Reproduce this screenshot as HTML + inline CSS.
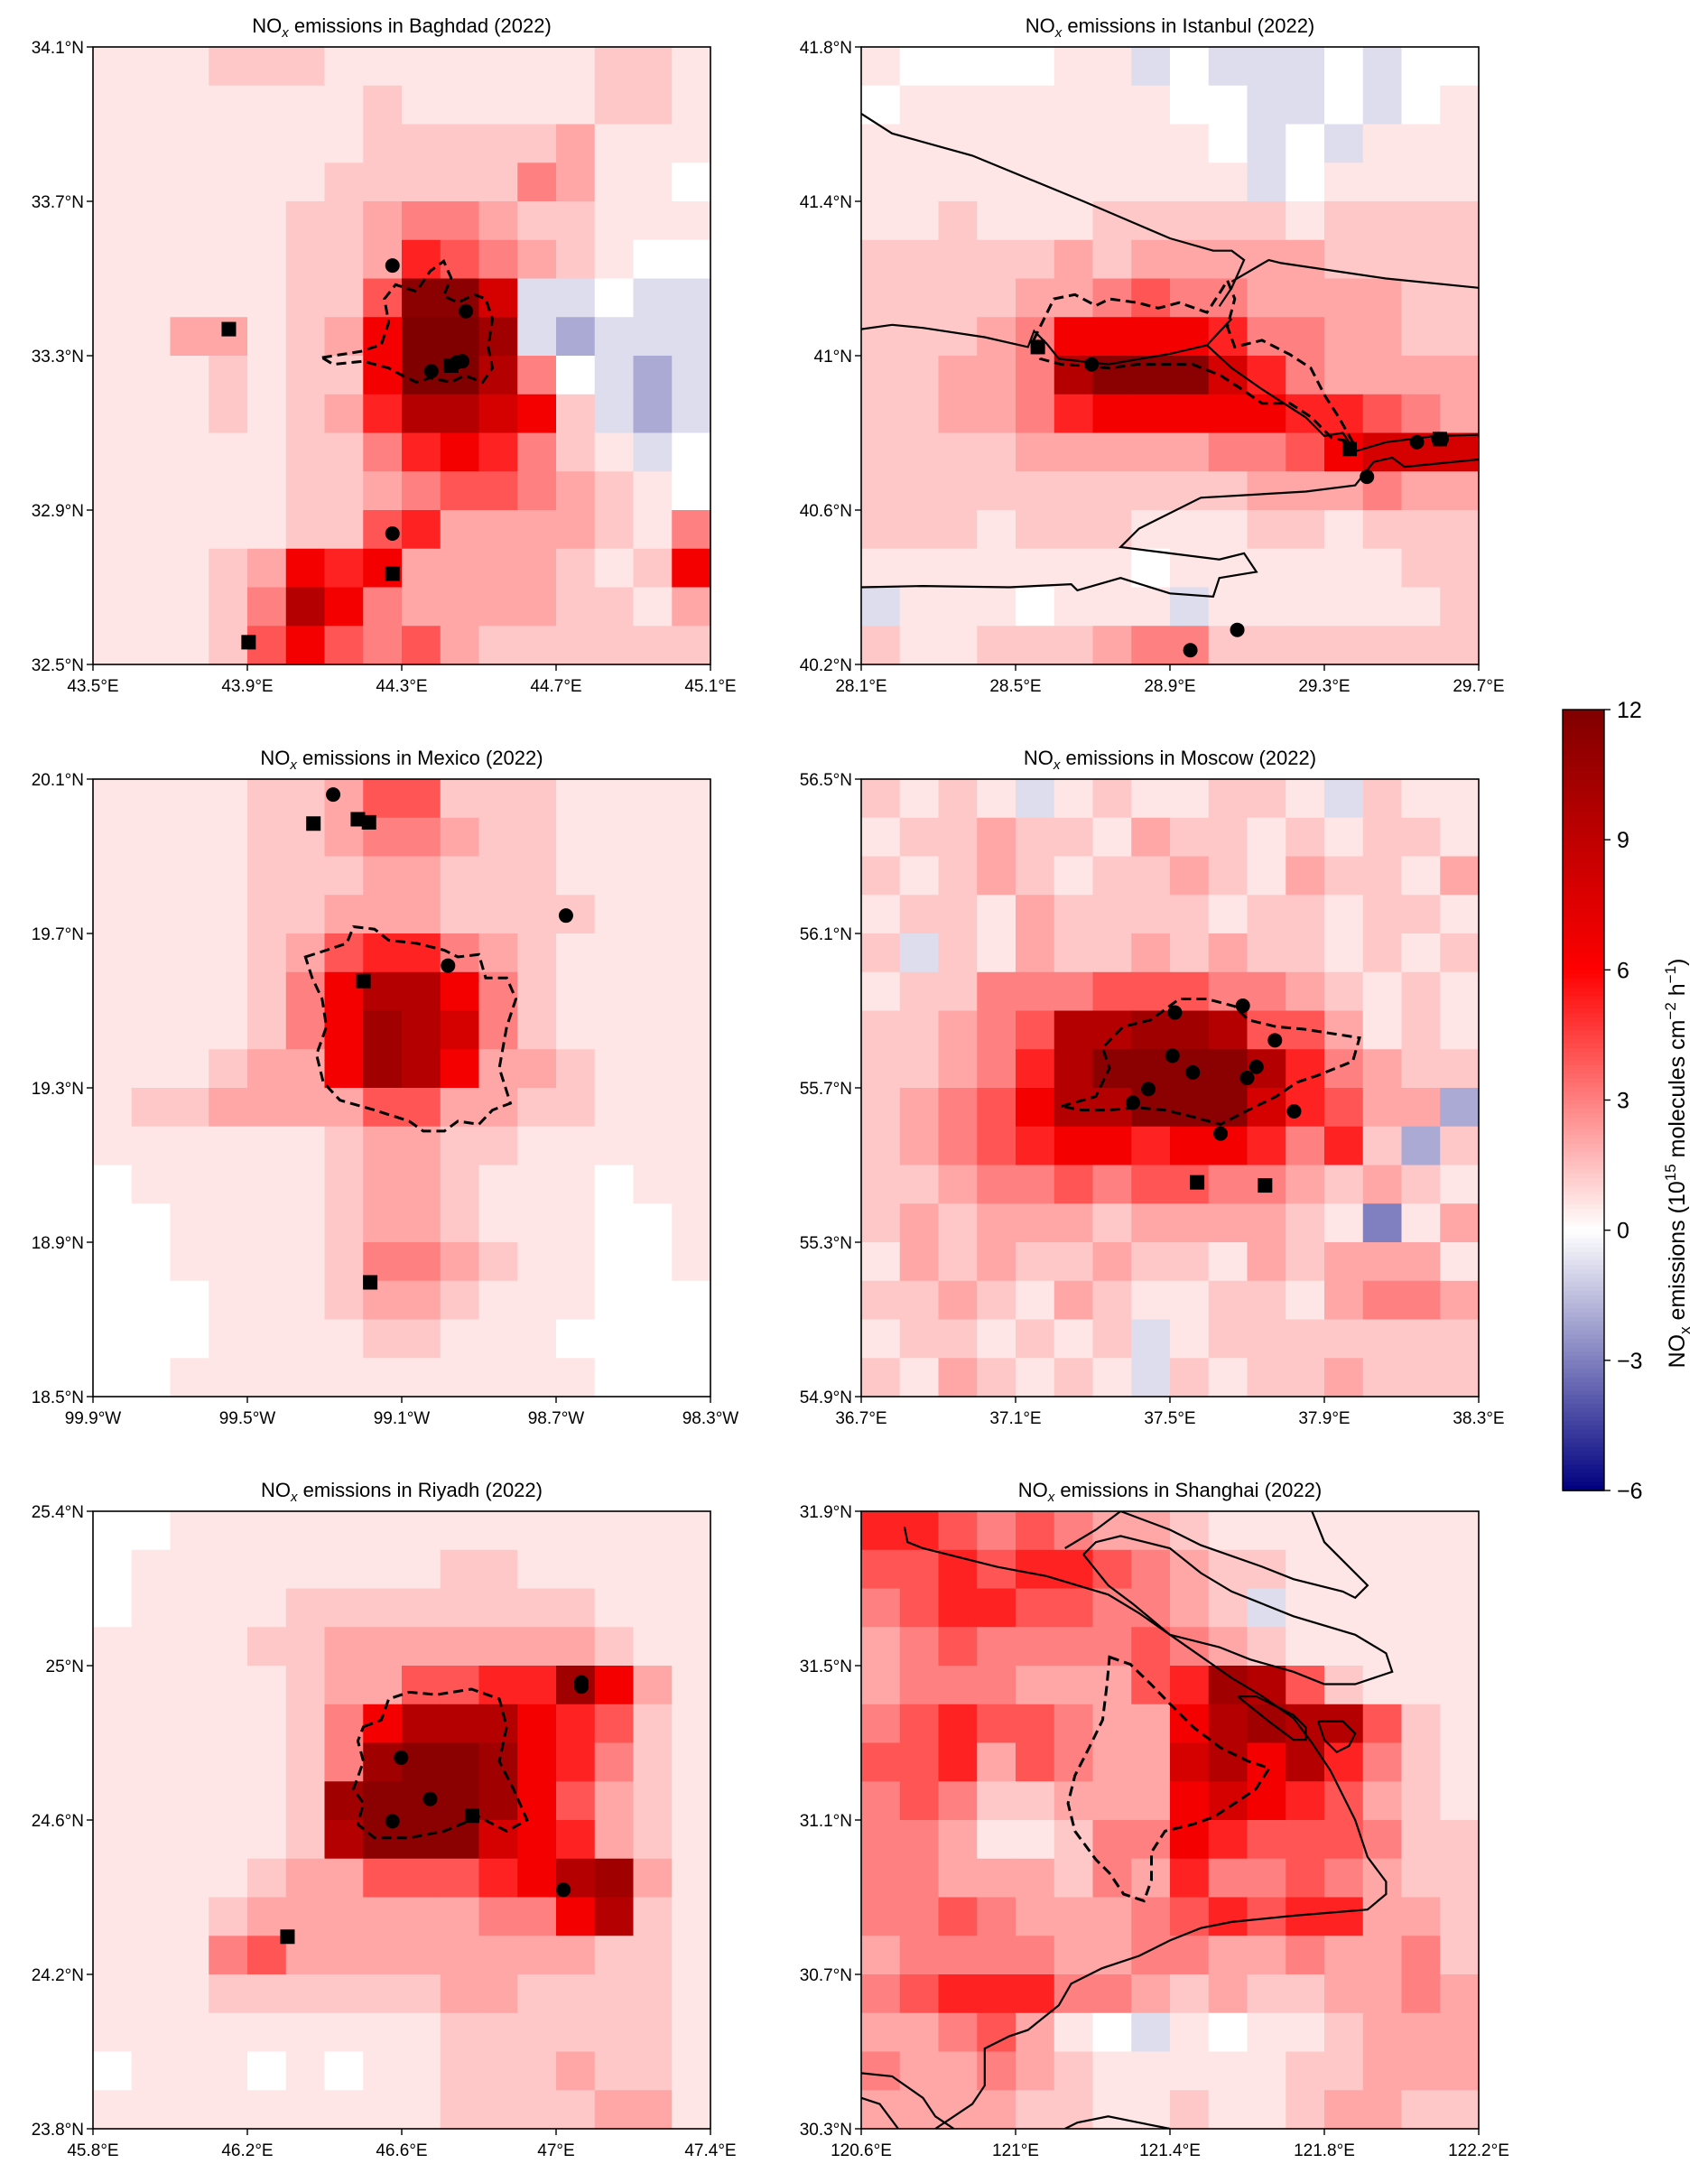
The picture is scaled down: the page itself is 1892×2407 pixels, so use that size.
<!DOCTYPE html>
<html><head><meta charset="utf-8">
<style>
html,body{margin:0;padding:0;background:#fff;}
svg{display:block;font-family:"Liberation Sans","DejaVu Sans",sans-serif;}
</style></head>
<body>
<svg id="fig" xmlns="http://www.w3.org/2000/svg" width="1892" height="2407" viewBox="0 0 1892 2407">
<rect x="0" y="0" width="1892" height="2407" fill="#fff"/>
</svg>
<script>
// ===== Data (16x16 grid per city, rows north->south, cols west->east) =====
// level codes: 0-9,a,b,c = increasing emission levels; x,y,z = negative levels
const levelCodes = "zyx0123456789abc";
const levelValues = [-3,-2,-0.8,0,0.6,1.3,2.1,3,4,5.2,6.5,8,9.5,10.5,11.5,12];
const cityNames = ["Baghdad","Istanbul","Mexico","Moscow","Riyadh","Shanghai"];
const lonTicks = [["43.5°E","43.9°E","44.3°E","44.7°E","45.1°E"],["28.1°E","28.5°E","28.9°E","29.3°E","29.7°E"],["99.9°W","99.5°W","99.1°W","98.7°W","98.3°W"],["36.7°E","37.1°E","37.5°E","37.9°E","38.3°E"],["45.8°E","46.2°E","46.6°E","47°E","47.4°E"],["120.6°E","121°E","121.4°E","121.8°E","122.2°E"]];
const latTicks = [["34.1°N","33.7°N","33.3°N","32.9°N","32.5°N"],["41.8°N","41.4°N","41°N","40.6°N","40.2°N"],["20.1°N","19.7°N","19.3°N","18.9°N","18.5°N"],["56.5°N","56.1°N","55.7°N","55.3°N","54.9°N"],["25.4°N","25°N","24.6°N","24.2°N","23.8°N"],["31.9°N","31.5°N","31.1°N","30.7°N","30.3°N"]];
const gridBaghdad = ["1112221111111221","1111111211111221","1111111222223111","1111112222243110","1111122344322111","1111122365432100","11111225bb8xx0xx","11331237ccaxyxxx","11121227cc940xyx","1112123699872xyx","11111224676421x0","1111122345543210","1111122563333214","1112376733332127","1112497433332213","1112575453222222"];
const gridIstanbul = ["1000011x0xxx0x00","0111111100xx0x01","1111111110x0x111","1111111111x01111","1121112222212222","2222232333332222","2222334544333322","2223477776443322","223349bbb8643333","2233467777766543","2222333334457888","2222222222333433","2221222111221222","1111111011111122","x1110111x1111112","2112223442222222"];
const gridMexico = ["1111223552221111","1111223443221111","1111222332221111","1111223332222111","1111235664321111","1111247997421111","1111247a98421111","1112337a97332111","1223333553322111","1111112332211111","0111112332111011","0011112332111001","0011112443211001","0001112332111000","0001111221110000","0011111111111000"];
const gridMoscow = ["2121x1211221x211","1223221322121221","2123212232132213","1221322221221221","2x21322323221212","1224445554432121","2234599aa9553121","223469bbbb964322","2345799bbb86533y","23456776776462y2","2234454554432321","2323332333321z13","1323223221323331","2232132112213443","1221212x12222222","2132121x21223222"];
const gridRiyadh = ["0011111111111111","0111111112211111","0111122222222111","1111223333333211","111112335566a731","1111124799976521","1111124abba76421","111112abbba75321","1111129bbb876321","1111233555679a31","1112333333447921","1114533333333221","1112222223322221","1111111112222221","0111010112223221","1111111112222331"];
const gridShanghai = ["6654543321111111","5565665432211111","4566554432x11111","3454444543211111","344433356a952111","4565543379a99521","5563543389796421","4542233378765321","4431124476555422","4433324364454322","4454333456566332","3444433443343342","4566644323223343","3345310x10112333","4334321111122333","3333221121123322"];
const grids = [gridBaghdad,gridIstanbul,gridMexico,gridMoscow,gridRiyadh,gridShanghai];
// markers in panel fraction units [fx, fy]
const circles = [
 [[0.485,0.354],[0.604,0.428],[0.548,0.525],[0.589,0.511],[0.598,0.509],[0.485,0.788]],
 [[0.286,0.486],[0.373,0.514],[0.9,0.640],[0.935,0.635],[0.94,0.635],[0.819,0.696],[0.609,0.944],[0.533,0.977]],
 [[0.389,0.025],[0.766,0.221],[0.575,0.302]],
 [[0.508,0.378],[0.618,0.367],[0.67,0.423],[0.504,0.448],[0.64,0.466],[0.537,0.475],[0.625,0.484],[0.465,0.502],[0.440,0.524],[0.701,0.538],[0.582,0.574]],
 [[0.791,0.277],[0.791,0.284],[0.499,0.399],[0.546,0.466],[0.485,0.502],[0.762,0.613]],
 []
];
const squares = [
 [[0.220,0.457],[0.580,0.516],[0.485,0.853],[0.252,0.964]],
 [[0.286,0.486],[0.791,0.651],[0.937,0.635]],
 [[0.357,0.072],[0.429,0.065],[0.447,0.070],[0.438,0.327],[0.449,0.815]],
 [[0.544,0.653],[0.654,0.658]],
 [[0.614,0.493],[0.315,0.689]],
 []
];
// outlines (panel fraction units)
const cityOutline = [
 [[0.371,0.503],[0.434,0.493],[0.467,0.482],[0.479,0.446],[0.472,0.408],[0.490,0.385],[0.524,0.396],[0.546,0.363],[0.568,0.347],[0.580,0.374],[0.568,0.403],[0.591,0.414],[0.618,0.401],[0.636,0.408],[0.647,0.441],[0.640,0.486],[0.647,0.52],[0.631,0.543],[0.602,0.532],[0.580,0.543],[0.546,0.536],[0.524,0.543],[0.501,0.532],[0.479,0.52],[0.438,0.509],[0.389,0.514]],
 [[0.279,0.475],[0.312,0.408],[0.346,0.401],[0.380,0.419],[0.402,0.408],[0.447,0.414],[0.481,0.423],[0.515,0.414],[0.560,0.430],[0.582,0.396],[0.593,0.378],[0.605,0.408],[0.593,0.453],[0.605,0.486],[0.649,0.475],[0.694,0.498],[0.728,0.520],[0.751,0.565],[0.773,0.599],[0.796,0.640],[0.762,0.633],[0.728,0.599],[0.694,0.577],[0.649,0.577],[0.616,0.554],[0.582,0.532],[0.537,0.514],[0.492,0.514],[0.447,0.514],[0.402,0.520],[0.357,0.516],[0.324,0.514],[0.290,0.505]],
 [[0.344,0.288],[0.378,0.277],[0.411,0.266],[0.422,0.239],[0.456,0.243],[0.479,0.261],[0.524,0.266],[0.569,0.277],[0.591,0.288],[0.625,0.284],[0.636,0.322],[0.670,0.322],[0.685,0.356],[0.670,0.401],[0.658,0.468],[0.676,0.525],[0.647,0.536],[0.625,0.559],[0.591,0.554],[0.569,0.570],[0.535,0.570],[0.512,0.554],[0.456,0.536],[0.400,0.520],[0.373,0.491],[0.362,0.446],[0.378,0.401],[0.371,0.356],[0.355,0.322]],
 [[0.324,0.530],[0.380,0.514],[0.402,0.468],[0.391,0.435],[0.424,0.401],[0.469,0.390],[0.515,0.356],[0.560,0.356],[0.605,0.368],[0.627,0.390],[0.672,0.401],[0.717,0.405],[0.762,0.412],[0.807,0.419],[0.796,0.457],[0.739,0.480],[0.706,0.491],[0.672,0.514],[0.627,0.536],[0.582,0.559],[0.537,0.547],[0.492,0.536],[0.447,0.532],[0.402,0.536],[0.357,0.536]],
 [[0.438,0.349],[0.467,0.338],[0.479,0.304],[0.512,0.293],[0.557,0.297],[0.613,0.288],[0.658,0.304],[0.670,0.349],[0.658,0.405],[0.681,0.450],[0.703,0.500],[0.670,0.518],[0.625,0.495],[0.569,0.518],[0.512,0.529],[0.456,0.529],[0.429,0.507],[0.438,0.473],[0.422,0.450],[0.438,0.405],[0.429,0.372]],
 [[0.402,0.236],[0.436,0.248],[0.470,0.281],[0.503,0.315],[0.537,0.349],[0.582,0.383],[0.627,0.405],[0.661,0.416],[0.639,0.450],[0.605,0.473],[0.571,0.495],[0.537,0.507],[0.492,0.518],[0.470,0.552],[0.470,0.597],[0.458,0.631],[0.425,0.620],[0.402,0.586],[0.380,0.564],[0.346,0.518],[0.335,0.473],[0.346,0.428],[0.369,0.383],[0.391,0.338],[0.398,0.281]]
];
const coastlines = [
 [],
 [
  [[0,0.108],[0.05,0.14],[0.18,0.176],[0.36,0.25],[0.5,0.31],[0.57,0.33],[0.6,0.33],[0.62,0.345],[0.6,0.39],[0.58,0.42]],
  [[0.6,0.38],[0.66,0.345],[0.68,0.35],[0.85,0.375],[1,0.39]],
  [[0,0.457],[0.05,0.45],[0.1,0.455],[0.2,0.47],[0.27,0.486],[0.28,0.46],[0.3,0.48],[0.32,0.505],[0.4,0.514],[0.5,0.497],[0.56,0.483],[0.6,0.44]],
  [[0.56,0.483],[0.6,0.52],[0.65,0.555],[0.72,0.6],[0.75,0.63],[0.78,0.625],[0.8,0.655],[0.85,0.64],[0.93,0.63],[1,0.628]],
  [[1,0.668],[0.88,0.68],[0.86,0.665],[0.83,0.672],[0.8,0.71],[0.72,0.72],[0.55,0.73],[0.45,0.78],[0.42,0.81],[0.5,0.82],[0.58,0.83],[0.62,0.82],[0.64,0.85],[0.58,0.86],[0.57,0.89],[0.5,0.885],[0.42,0.86],[0.35,0.88],[0.34,0.87],[0.24,0.875],[0.1,0.873],[0,0.875]]
 ],
 [],[],[],
 [
  [[0.07,0.025],[0.075,0.05],[0.1,0.06],[0.22,0.09],[0.3,0.105],[0.4,0.135],[0.45,0.165],[0.5,0.2],[0.55,0.235],[0.6,0.27],[0.65,0.3],[0.7,0.335],[0.73,0.375],[0.76,0.42],[0.78,0.46],[0.8,0.5],[0.82,0.56],[0.85,0.6],[0.85,0.62],[0.82,0.645],[0.7,0.655],[0.6,0.665],[0.55,0.675],[0.5,0.695],[0.45,0.72],[0.39,0.74],[0.34,0.765],[0.32,0.8],[0.27,0.84],[0.24,0.85],[0.2,0.87],[0.2,0.93],[0.18,0.96],[0.12,1]],
  [[0.33,0.06],[0.38,0.03],[0.42,0.0],[0.5,0.03],[0.55,0.055],[0.65,0.09],[0.7,0.11],[0.78,0.13],[0.8,0.14],[0.82,0.12],[0.75,0.05],[0.73,0.0]],
  [[0.36,0.07],[0.38,0.05],[0.42,0.04],[0.5,0.06],[0.55,0.1],[0.6,0.13],[0.7,0.17],[0.8,0.2],[0.85,0.23],[0.86,0.26],[0.8,0.28],[0.75,0.28],[0.7,0.26],[0.63,0.24],[0.58,0.22],[0.5,0.2],[0.44,0.15],[0.4,0.12],[0.36,0.07]],
  [[0.61,0.3],[0.64,0.3],[0.7,0.33],[0.72,0.35],[0.72,0.37],[0.7,0.37],[0.66,0.34],[0.61,0.3]],
  [[0.74,0.34],[0.78,0.34],[0.8,0.36],[0.79,0.38],[0.77,0.39],[0.75,0.37],[0.74,0.34]],
  [[0,0.91],[0.05,0.915],[0.1,0.95],[0.12,0.98],[0.15,1]],
  [[0,0.95],[0.03,0.96],[0.06,1]],
  [[0.33,1],[0.35,0.99],[0.4,0.98],[0.45,0.99],[0.5,1]]
 ]
];
const cbTicks=[12,9,6,3,0,-3,-6];
// ===== Layout =====
const NS="http://www.w3.org/2000/svg";
const svg=document.getElementById('fig');
const colX=[103,954], rowY=[52,863,1674], PW=684, PH=684;
function mk(tag,attrs,parent){const e=document.createElementNS(NS,tag);for(const k in attrs)e.setAttribute(k,attrs[k]);(parent||svg).appendChild(e);return e;}
function val(ch){const i=levelCodes.indexOf(ch);return i<0?0:levelValues[i];}
function color(v){let r,g,b;
 if(v>=6){const t=Math.min(1,(v-6)/6);r=255-127*t;g=0;b=0;}
 else if(v>=0){const t=v/6;r=255;g=255*(1-t);b=g;}
 else{const t=Math.min(1,-v/6);r=255*(1-t);g=r;b=255-127*t;}
 return `rgb(${Math.round(r)},${Math.round(g)},${Math.round(b)})`;}
function ptsStr(arr,x0,y0){return arr.map(p=>(x0+p[0]*PW).toFixed(1)+','+(y0+p[1]*PH).toFixed(1)).join(' ');}

for(let i=0;i<6;i++){
 const x0=colX[i%2], y0=rowY[Math.floor(i/2)];
 const g=mk('g',{});
 
 
 const grid=grids[i]; const nr=grid.length, nc=grid[0].length;
 const cw=PW/nc, ch=PH/nr;
 const hm=mk('g',{},g);
 
 
 for(let r=0;r<nr;r++)for(let c=0;c<nc;c++){
  const cell=mk('rect',{x:(x0+c*cw).toFixed(2),y:(y0+r*ch).toFixed(2),width:(cw+0.6).toFixed(2),height:(ch+0.6).toFixed(2),fill:color(val(grid[r][c]))},hm);
  
  
 }
 const clip=mk('clipPath',{id:'clip'+i},g);
 mk('rect',{x:x0,y:y0,width:PW,height:PH},clip);
 for(const line of coastlines[i]){
  const l=mk('polyline',{points:ptsStr(line,x0,y0),fill:'none',stroke:'#000','stroke-width':2.2,'clip-path':`url(#clip${i})`},g);
  
  
 }
 const ol=mk('polygon',{points:ptsStr(cityOutline[i],x0,y0),fill:'none',stroke:'#000','stroke-width':3,'stroke-dasharray':'11,6'},g);
 
 
 for(const p of circles[i]){
  const c=mk('circle',{cx:x0+p[0]*PW,cy:y0+p[1]*PH,r:8,fill:'#000'},g);
  
  
 }
 for(const p of squares[i]){
  const s=mk('rect',{x:x0+p[0]*PW-8,y:y0+p[1]*PH-8,width:16,height:16,fill:'#000'},g);
  
  
 }
 const fr=mk('rect',{x:x0,y:y0,width:PW,height:PH,fill:'none',stroke:'#000','stroke-width':1.6},g);
 
 
 for(let k=0;k<5;k++){
  const tx=x0+k*PW/4;
  mk('line',{x1:tx,y1:y0+PH,x2:tx,y2:y0+PH+7,stroke:'#000','stroke-width':1.4},g);
  const t=mk('text',{x:tx,y:y0+PH+30,'font-size':19,'text-anchor':'middle',fill:'#000'},g);
  t.textContent=lonTicks[i][k];
  
  
  const ty=y0+k*PH/4;
  mk('line',{x1:x0-7,y1:ty,x2:x0,y2:ty,stroke:'#000','stroke-width':1.4},g);
  const t2=mk('text',{x:x0-10,y:ty+7,'font-size':19,'text-anchor':'end',fill:'#000'},g);
  t2.textContent=latTicks[i][k];
  
  
 }
 const ti=mk('text',{x:x0+PW/2,y:y0-16,'font-size':22,'text-anchor':'middle',fill:'#000'},g);
 ti.innerHTML=`NO<tspan font-size="15" dy="5" font-style="italic">x</tspan><tspan dy="-5"> emissions in ${cityNames[i]} (2022)</tspan>`;
 
 
}
// ===== Colorbar =====
const cbX=1731, cbY=786, cbW=46, cbH=865, vmin=-6, vmax=12;
const cb=mk('g',{});


const N=180;
for(let k=0;k<N;k++){
 const v=vmax-(vmax-vmin)*(k+0.5)/N;
 mk('rect',{x:cbX,y:(cbY+k*cbH/N).toFixed(2),width:cbW,height:(cbH/N+0.8).toFixed(2),fill:color(v)},cb);
}
mk('rect',{x:cbX,y:cbY,width:cbW,height:cbH,fill:'none',stroke:'#000','stroke-width':1.4},cb);
for(const v of cbTicks){
 const y=cbY+(vmax-v)/(vmax-vmin)*cbH;
 mk('line',{x1:cbX+cbW,y1:y,x2:cbX+cbW+7,y2:y,stroke:'#000','stroke-width':1.4},cb);
 const t=mk('text',{x:cbX+cbW+14,y:y+9,'font-size':25,fill:'#000'},cb);
 t.textContent=(v<0?'\u2212'+(-v):''+v);
 
 
}
const cl=mk('text',{x:0,y:0,'font-size':25,'text-anchor':'middle',fill:'#000',transform:`translate(1866,${cbY+cbH/2+70}) rotate(-90)`},cb);
cl.innerHTML='NO<tspan font-size="17" dy="6">x</tspan><tspan dy="-6"> emissions (10</tspan><tspan font-size="17" dy="-10">15</tspan><tspan dy="10"> molecules cm</tspan><tspan font-size="17" dy="-10">\u22122</tspan><tspan dy="10"> h</tspan><tspan font-size="17" dy="-10">\u22121</tspan><tspan dy="10">)</tspan>';


</script>
</body></html>
